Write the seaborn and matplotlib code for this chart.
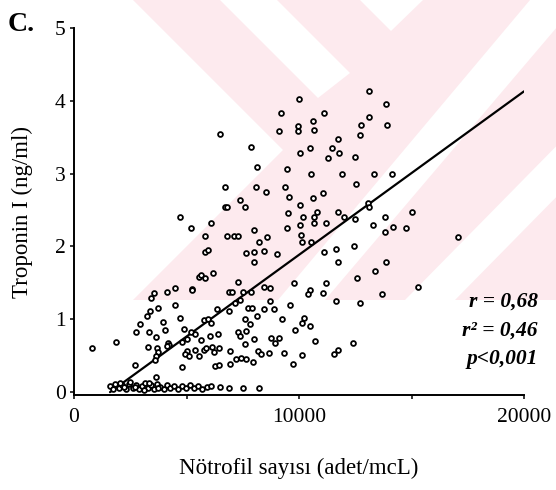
import matplotlib
matplotlib.use("Agg")
import matplotlib.pyplot as plt
from matplotlib.patches import Polygon
import seaborn as sns
import pandas as pd

# Neutrophil count (cells/mcL) and troponin I (ng/ml), patients with raised troponin
high_neutrophil = [10000, 9200, 11120, 9955, 10610, 9125, 9940, 10670, 6475, 11720,
                   7850, 10475, 11480, 10060, 11780, 11300, 8130, 9480, 10530, 11925,
                   6725, 8075, 8530, 9365, 9570, 10635, 11050, 7375, 6710, 6800,
                   7600, 10045, 9510, 10165, 10785, 10680, 11745, 11985, 10680, 11200,
                   9450, 10030, 7985, 10090, 6785, 7095, 7300, 8575, 4725, 5200,
                   6075, 5835, 13125, 13850, 13095, 12740, 13895, 12695, 12475, 13320,
                   14120, 12520, 13050, 13110, 12490, 13810, 15035, 13290, 14165, 14740,
                   13810, 17065]
high_troponin = [4.02, 3.83, 3.83, 3.66, 3.72, 3.58, 3.58, 3.60, 3.55, 3.48,
                 3.36, 3.35, 3.35, 3.28, 3.28, 3.21, 3.09, 3.07, 3.00, 3.00,
                 2.81, 2.81, 2.75, 2.82, 2.68, 2.66, 2.74, 2.64, 2.54, 2.54,
                 2.54, 2.57, 2.46, 2.40, 2.47, 2.41, 2.47, 2.41, 2.32, 2.32,
                 2.26, 2.29, 2.22, 2.16, 2.14, 2.14, 2.14, 2.13, 2.40, 2.26,
                 2.32, 2.14, 4.14, 3.95, 3.78, 3.67, 3.67, 3.53, 3.23, 3.00,
                 3.00, 2.86, 2.59, 2.54, 2.38, 2.40, 2.47, 2.29, 2.27, 2.26,
                 2.20, 2.13]

# Patients with intermediate troponin
mid_neutrophil = [5835, 5955, 5540, 5630, 5835, 6175, 5245, 5245, 4475, 4145,
                  3540, 3420, 4475, 3735, 3390, 3260, 2920, 3955, 4700, 2770,
                  3320, 4060, 3630, 4875, 5185, 5390, 5775, 5955, 6075, 6355,
                  6400, 6055, 5630, 4175, 4235, 4135, 4800, 5020, 3275, 3675,
                  3735, 3645, 3615, 5020, 4945, 5095, 5365, 5540, 5765, 5865,
                  6135, 6210, 6430, 815, 1880, 2725, 4800, 6280, 6430, 3645,
                  8210, 7630, 7985, 8455, 9020, 7985, 10130, 10530, 11125, 11655,
                  11720, 7275, 6875, 7020, 7510, 7865, 8430, 8725, 9775, 11185,
                  10475, 10410, 11065, 11655, 7170, 7390, 6875, 7720, 7910, 8725,
                  8430, 8900, 9615, 7615, 8130, 7835, 9245, 10235, 10130, 10500,
                  9820, 7275, 7390, 7630, 8015, 7615, 8770, 9095, 8945, 10695,
                  12400, 6920, 8165, 8310, 8650, 9345, 10130, 11540, 11720, 7215,
                  7435, 7630, 7955, 6920, 9720, 12430, 13865, 13390, 12575, 15300,
                  13675, 12695]
mid_troponin = [1.93, 1.95, 1.58, 1.61, 1.57, 1.63, 1.42, 1.40, 1.43, 1.38,
                1.36, 1.29, 1.19, 1.15, 1.12, 1.04, 0.94, 0.96, 1.02, 0.82,
                0.82, 0.85, 0.75, 0.86, 0.82, 0.80, 0.99, 1.01, 0.95, 1.14,
                0.80, 0.77, 0.71, 0.68, 0.64, 0.63, 0.69, 0.73, 0.62, 0.61,
                0.55, 0.50, 0.44, 0.57, 0.52, 0.50, 0.58, 0.50, 0.58, 0.60,
                0.62, 0.55, 0.60, 0.60, 0.69, 0.37, 0.35, 0.36, 0.37, 0.21,
                2.06, 1.91, 1.93, 1.94, 1.90, 1.78, 2.06, 2.06, 1.92, 1.97,
                1.79, 1.51, 1.37, 1.37, 1.37, 1.38, 1.44, 1.43, 1.50, 1.50,
                1.40, 1.35, 1.36, 1.25, 1.22, 1.27, 1.12, 1.15, 1.15, 1.25,
                1.14, 1.14, 1.19, 1.01, 1.04, 0.94, 1.00, 1.02, 0.95, 0.91,
                0.85, 0.82, 0.77, 0.84, 0.73, 0.66, 0.74, 0.74, 0.68, 0.70,
                0.68, 0.57, 0.57, 0.52, 0.53, 0.53, 0.51, 0.52, 0.58, 0.45,
                0.47, 0.45, 0.42, 0.39, 0.38, 2.00, 1.79, 1.66, 1.56, 1.44,
                1.35, 1.22]

# Patients with troponin near zero
low_neutrophil = [1600, 1735, 1820, 2000, 2135, 2310, 2445, 2490, 2620, 2755,
                  2890, 3020, 3155, 3290, 3420, 3555, 3690, 3820, 4000, 4135,
                  4265, 4445, 4620, 4800, 4975, 5155, 5335, 5510, 5690, 5910,
                  6090, 6500, 6875, 7500, 8235, 2200, 2700, 3100, 3350, 3750, 2050]
low_troponin = [0.08, 0.04, 0.11, 0.05, 0.10, 0.04, 0.11, 0.14, 0.05, 0.10,
                0.04, 0.08, 0.12, 0.05, 0.10, 0.04, 0.11, 0.07, 0.04, 0.10,
                0.05, 0.08, 0.04, 0.08, 0.05, 0.10, 0.05, 0.08, 0.04, 0.07,
                0.08, 0.07, 0.05, 0.05, 0.06, 0.07, 0.07, 0.03, 0.13, 0.05, 0.12]

# Least-squares fit line
fit_intercept = -0.36
fit_slope = 2.245e-4
fit_range = [1600, 20000]

x_ticks = [0, 5000, 10000, 15000, 20000]
x_tick_labels = ["0", "", "10000", "", "20000"]
y_ticks = [0, 1, 2, 3, 4, 5]
stats_lines = ["r = 0,68", "r² = 0,46", "p<0,001"]

df = pd.DataFrame({
    "neutrophil": high_neutrophil + mid_neutrophil + low_neutrophil,
    "troponin": high_troponin + mid_troponin + low_troponin,
})
fit_df = pd.DataFrame({
    "neutrophil": fit_range,
    "troponin": [fit_intercept + fit_slope * v for v in fit_range],
})

sns.set_theme(style="ticks")
plt.rcParams["font.family"] = ["Liberation Serif", "DejaVu Serif"]

W, H = 556, 490
fig = plt.figure(figsize=(W / 100, H / 100), dpi=100)
fig.patch.set_facecolor("white")


def fig_poly(points, color):
    pts = [(x / W, 1 - y / H) for x, y in points]
    fig.add_artist(Polygon(pts, closed=True, transform=fig.transFigure,
                           facecolor=color, edgecolor="none", zorder=-10))


# faint pink watermark bands behind the plot
pink = "#fdeaee"
fig_poly([(133, 0), (556, 0), (556, 300), (133, 300), (283, 150)], pink)
fig_poly([(220, 0), (277, 0), (350, 73), (318, 98)], "white")
fig_poly([(360, 0), (423, 0), (391, 31)], "white")
fig_poly([(530, 0), (580, 0), (325, 300), (278, 300)], "white")
fig_poly([(700, 0), (750, 0), (455, 300), (405, 300)], "white")

ax = fig.add_axes([74 / W, 1 - 395 / H, 450 / W, 367 / H])
ax.set_facecolor("none")

sns.scatterplot(data=df, x="neutrophil", y="troponin", ax=ax, marker="o",
                s=12, edgecolor="black", linewidth=1.3, zorder=3, legend=False)
ax.collections[-1].set_facecolor("white")
sns.lineplot(data=fit_df, x="neutrophil", y="troponin", ax=ax,
             color="black", linewidth=1.6, zorder=2)

ax.set_xlim(0, 20000)
ax.set_ylim(-0.04, 5.0)
ax.set_xticks(x_ticks)
ax.set_xticklabels(x_tick_labels)
ax.set_yticks(y_ticks)
ax.set_yticklabels([str(t) for t in y_ticks])
sns.despine(ax=ax)
for side in ("left", "bottom"):
    ax.spines[side].set_linewidth(1.4)
    ax.spines[side].set_color("black")
ax.tick_params(axis="both", direction="out", length=3, width=1.1,
               labelsize=15.5, colors="black")
ax.tick_params(axis="x", pad=6)
ax.tick_params(axis="y", pad=3)

ax.set_xlabel("Nötrofil sayısı (adet/mcL)", fontsize=16.5, color="black")
ax.set_ylabel("Troponin I (ng/ml)", fontsize=16.5, color="black")
ax.xaxis.set_label_coords(0.5, -0.17)
ax.yaxis.set_label_coords(-0.091, 0.5)

fig.text(8 / W, 1 - 31 / H, "C.", fontsize=20, fontweight="bold",
         color="black", va="baseline", ha="left")

for i, line in enumerate(stats_lines):
    fig.text(538 / W, 1 - (302 + 28.5 * i) / H, line, fontsize=15.5,
             style="italic", fontweight="bold", ha="right", va="center",
             color="black")

fig.savefig("out.png", dpi=100)
